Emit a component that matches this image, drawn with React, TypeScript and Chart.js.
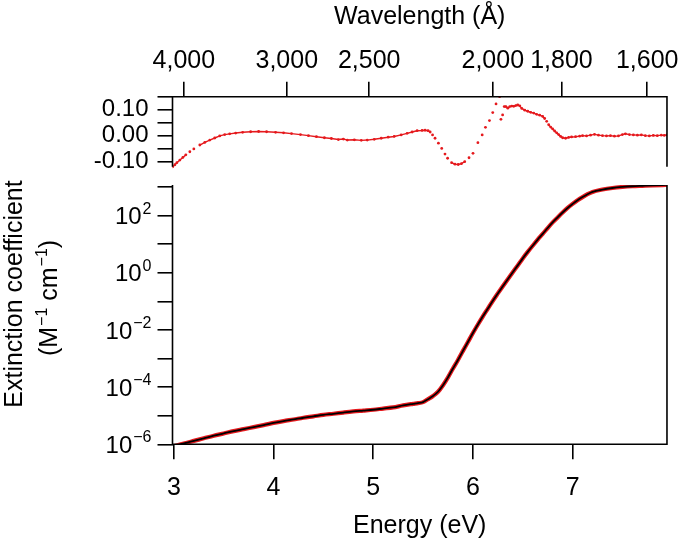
import React, { useEffect, useRef } from "react";
import { Chart, registerables } from "chart.js";

Chart.register(...registerables);

const FONT = '"Liberation Sans", Arial, Helvetica, sans-serif';
const RED = "#e5191d";

const HC_EV_ANGSTROM = 12398.4;
const ENERGY_MIN = 2.986;
const ENERGY_MAX = 7.947;
const EXT_MIN = 1e-6;
const EXT_MAX = 1183;
const RES_AXIS_TOP = 0.15;
const RES_AXIS_BOTTOM = -0.12;
const RES_SCALE_MIN = -0.19;

const energyTicks = [3, 4, 5, 6, 7];
const wavelengthTicks = [4000, 3000, 2500, 2000, 1800, 1600];
const wavelengthLabels = ["4,000", "3,000", "2,500", "2,000", "1,800", "1,600"];
const residualTicks = [0.15, 0.1, 0.05, 0, -0.05, -0.1];
const residualTickLabels = ["", "0.10", "", "0.00", "", "-0.10"];
const extTickExponents = [3, 2, 1, 0, -1, -2, -3, -4, -5, -6];
const extLabelExponents = [2, 0, -2, -4, -6];

const extEnergy = [
  2.99, 3.1, 3.2, 3.3, 3.4, 3.5, 3.6, 3.7, 3.8, 3.9, 4.0, 4.1, 4.2, 4.3, 4.4,
  4.5, 4.6, 4.7, 4.8, 4.9, 5.0, 5.1, 5.2, 5.3, 5.4, 5.45, 5.5, 5.55, 5.6, 5.65,
  5.7, 5.75, 5.8, 5.85, 5.9, 5.95, 6.0, 6.05, 6.1, 6.15, 6.2, 6.25, 6.3, 6.35,
  6.4, 6.45, 6.5, 6.55, 6.6, 6.65, 6.7, 6.75, 6.8, 6.85, 6.9, 6.95, 7.0, 7.05,
  7.1, 7.15, 7.2, 7.3, 7.4, 7.5, 7.6, 7.7, 7.8, 7.9, 7.947,
];
const extCoefficient = [
  8.3e-7, 1.07e-6, 1.32e-6, 1.62e-6, 2.0e-6, 2.4e-6, 2.9e-6, 3.4e-6, 4.0e-6,
  4.7e-6, 5.6e-6, 6.5e-6, 7.4e-6, 8.5e-6, 9.5e-6, 1.07e-5, 1.17e-5, 1.29e-5,
  1.41e-5, 1.51e-5, 1.62e-5, 1.78e-5, 1.95e-5, 2.3e-5, 2.6e-5, 2.75e-5, 3.0e-5,
  3.8e-5, 4.9e-5, 6.9e-5, 1.17e-4, 2.2e-4, 4.5e-4, 8.9e-4, 1.86e-3, 3.8e-3,
  7.8e-3, 1.55e-2, 3.0e-2, 5.6e-2, 0.105, 0.19, 0.34, 0.6, 1.05, 1.82, 3.2,
  5.4, 8.9, 14.5, 23, 37, 58, 87, 129, 186, 257, 347, 447, 562, 676, 820, 930,
  1010, 1070, 1110, 1150, 1180, 1190,
];

const resEnergy = [
  2.988, 3.01, 3.03, 3.06, 3.09, 3.12, 3.16, 3.2, 3.26, 3.31, 3.36, 3.41, 3.46,
  3.51, 3.56, 3.62, 3.69, 3.77, 3.85, 3.93, 4.02, 4.1, 4.18, 4.27, 4.35, 4.43,
  4.51, 4.58, 4.65, 4.7, 4.74, 4.81, 4.88, 4.94, 5.01, 5.08, 5.15, 5.21, 5.28,
  5.34, 5.39, 5.44, 5.49, 5.52, 5.55, 5.571, 5.595, 5.62, 5.654, 5.687, 5.72,
  5.746, 5.786, 5.82, 5.853, 5.885, 5.918, 5.961, 6.001, 6.05, 6.093, 6.126,
  6.166, 6.199, 6.232, 6.268, 6.281, 6.298, 6.314, 6.331, 6.35, 6.37, 6.39,
  6.41, 6.43, 6.45, 6.47, 6.49, 6.52, 6.55, 6.58, 6.61, 6.64, 6.67, 6.7, 6.72,
  6.74, 6.76, 6.78, 6.8, 6.82, 6.84, 6.86, 6.88, 6.9, 6.93, 6.96, 6.99, 7.03,
  7.07, 7.1, 7.14, 7.18, 7.22, 7.26, 7.3, 7.34, 7.38, 7.42, 7.46, 7.5, 7.53,
  7.57, 7.61, 7.65, 7.69, 7.73, 7.77, 7.81, 7.85, 7.89, 7.92, 7.947,
];
const resValue = [
  -0.12, -0.112, -0.104, -0.094, -0.084, -0.074, -0.062, -0.051, -0.036, -0.026,
  -0.017, -0.009, -0.001, 0.004, 0.007, 0.01, 0.013, 0.015, 0.016, 0.015, 0.013,
  0.011, 0.008, 0.004, 0.0, -0.004, -0.008, -0.011, -0.015, -0.013, -0.017,
  -0.016, -0.018, -0.017, -0.014, -0.01, -0.006, -0.003, 0.003, 0.009, 0.014,
  0.019, 0.02, 0.021, 0.019, 0.014, 0.003, -0.01, -0.029, -0.049, -0.071,
  -0.087, -0.104, -0.11, -0.111, -0.108, -0.1, -0.085, -0.068, -0.027, 0.003,
  0.032, 0.058, 0.089, 0.122, 0.15, 0.063, 0.08, 0.112, 0.112, 0.106, 0.112,
  0.114, 0.113, 0.116, 0.118, 0.115, 0.105, 0.098, 0.094, 0.09, 0.087, 0.082,
  0.079, 0.074, 0.066, 0.055, 0.042, 0.033, 0.026, 0.018, 0.011, 0.004, -0.003,
  -0.008, -0.01, -0.007, -0.005, -0.004, -0.002, 0.0, -0.001, 0.002, 0.005,
  0.002, 0.0, -0.001, 0.0, -0.002, -0.001, 0.004, 0.007, 0.004, 0.003, 0.002,
  0.003, 0.0, -0.001, 0.001, 0.0, 0.002, 0.001, 0.003,
];

const framePlugin = {
  id: "frameAndText",
  afterDraw(chart: any) {
    const ctx = chart.ctx as CanvasRenderingContext2D;
    const xs = chart.scales.x;
    const ys = chart.scales.y;
    const y2 = chart.scales.y2;
    const L = xs.left;
    const R = xs.right;
    const tTop = y2.getPixelForValue(RES_AXIS_TOP);
    const tBot = y2.getPixelForValue(RES_AXIS_BOTTOM);
    const bTop = ys.top;
    const bBot = ys.bottom;
    ctx.save();
    ctx.strokeStyle = "#000";
    ctx.lineWidth = 1.6;
    ctx.beginPath();
    ctx.moveTo(L, tBot);
    ctx.lineTo(L, tTop);
    ctx.lineTo(R, tTop);
    ctx.lineTo(R, tBot);
    ctx.moveTo(L, bTop);
    ctx.lineTo(L, bBot);
    ctx.lineTo(R, bBot);
    ctx.lineTo(R, bTop);
    ctx.stroke();

    // log-axis labels with superscript exponents
    ctx.fillStyle = "#000";
    ctx.textBaseline = "alphabetic";
    ctx.textAlign = "left";
    const baseFont = `24px ${FONT}`;
    const supFont = `16px ${FONT}`;
    const rightEdge = L - 21;
    for (const e of extLabelExponents) {
      const py = ys.getPixelForValue(Math.pow(10, e));
      const expText = e < 0 ? "\u2212" + Math.abs(e) : String(e);
      ctx.font = supFont;
      const ew = ctx.measureText(expText).width;
      ctx.font = baseFont;
      const bw = ctx.measureText("10").width;
      const bx = rightEdge - ew - bw - 1;
      ctx.fillText("10", bx, py + 8.6);
      ctx.font = supFont;
      ctx.fillText(expText, bx + bw + 1, py - 2);
    }

    // axis titles
    ctx.font = `25px ${FONT}`;
    ctx.textAlign = "center";
    const cx = (L + R) / 2;
    ctx.fillText("Energy (eV)", cx, 533);
    ctx.fillText("Wavelength (\u00c5)", cx, 24);

    ctx.save();
    ctx.translate(22, 294);
    ctx.rotate(-Math.PI / 2);
    ctx.textAlign = "center";
    ctx.fillText("Extinction coefficient", 0, 0);
    ctx.restore();

    // second title line with superscripts
    const parts: [string, boolean][] = [
      ["(M", false],
      ["\u22121", true],
      [" cm", false],
      ["\u22121", true],
      [")", false],
    ];
    const big = `25px ${FONT}`;
    const small = `16px ${FONT}`;
    let total = 0;
    const widths = parts.map(([t, sup]) => {
      ctx.font = sup ? small : big;
      const w = ctx.measureText(t).width + (sup ? 1 : 0);
      total += w;
      return w;
    });
    ctx.save();
    ctx.translate(57, 298);
    ctx.rotate(-Math.PI / 2);
    ctx.textAlign = "left";
    let pos = -total / 2;
    parts.forEach(([t, sup], i) => {
      ctx.font = sup ? small : big;
      ctx.fillText(t, pos + (sup ? 1 : 0), sup ? -10 : 0);
      pos += widths[i];
    });
    ctx.restore();
    ctx.restore();
  },
};

export default function App() {
  const ref = useRef<HTMLCanvasElement | null>(null);

  useEffect(() => {
    if (!ref.current) return;
    const tickFont = { family: FONT, size: 24 };
    const xTickFont = { family: FONT, size: 25 };
    const gridCommon = {
      drawOnChartArea: false,
      drawTicks: true,
      tickLength: 15,
      color: "#000",
      lineWidth: 1.6,
    };
    const chart = new Chart(ref.current, {
      type: "line",
      data: {
        datasets: [
          {
            label: "residual",
            data: resEnergy.map((x, i) => ({ x, y: resValue[i] })),
            xAxisID: "x",
            yAxisID: "y2",
            order: 2,
            borderColor: RED,
            backgroundColor: RED,
            borderWidth: 1.4,
            pointRadius: 1.4,
            pointBorderWidth: 0,
            pointBackgroundColor: RED,
            tension: 0,
            segment: {
              borderColor: (c: any) =>
                Math.abs(c.p1.y - c.p0.y) > 2.6 ? "rgba(0,0,0,0)" : RED,
            },
          },
          {
            label: "data",
            data: extEnergy.map((x, i) => ({ x, y: extCoefficient[i] })),
            xAxisID: "x",
            yAxisID: "y",
            order: 1,
            borderColor: RED,
            borderWidth: 4.2,
            pointRadius: 0,
            cubicInterpolationMode: "monotone",
          },
          {
            label: "fit",
            data: extEnergy.map((x, i) => ({ x, y: extCoefficient[i] })),
            xAxisID: "x",
            yAxisID: "y",
            order: 0,
            borderColor: "#000",
            borderWidth: 1.8,
            pointRadius: 0,
            cubicInterpolationMode: "monotone",
          },
        ],
      },
      options: {
        responsive: false,
        animation: false,
        devicePixelRatio: 1,
        layout: { padding: { left: 0, right: 12, top: 0, bottom: 0 } },
        plugins: {
          legend: { display: false },
          tooltip: { enabled: false },
          title: { display: false },
        },
        scales: {
          x: {
            type: "linear",
            position: "bottom",
            min: ENERGY_MIN,
            max: ENERGY_MAX,
            afterBuildTicks: (s: any) => {
              s.ticks = energyTicks.map((v) => ({ value: v }));
            },
            ticks: {
              autoSkip: false,
              maxRotation: 0,
              color: "#000",
              font: xTickFont,
              padding: 14,
              callback: (v: any) => String(v),
            },
            grid: gridCommon,
            border: { display: false },
            afterFit: (s: any) => {
              s.height = 96.7;
            },
          },
          x2: {
            type: "linear",
            position: "top",
            min: ENERGY_MIN,
            max: ENERGY_MAX,
            afterBuildTicks: (s: any) => {
              s.ticks = wavelengthTicks.map((w) => ({ value: HC_EV_ANGSTROM / w }));
            },
            ticks: {
              autoSkip: false,
              maxRotation: 0,
              color: "#000",
              font: xTickFont,
              padding: 6,
              callback: (_v: any, i: number) => wavelengthLabels[i] ?? "",
            },
            grid: gridCommon,
            border: { display: false },
            afterFit: (s: any) => {
              s.height = 96.7;
            },
          },
          y: {
            type: "logarithmic",
            position: "left",
            stack: "panels",
            stackWeight: 259.3,
            min: EXT_MIN,
            max: EXT_MAX,
            afterBuildTicks: (s: any) => {
              s.ticks = extTickExponents.map((e) => ({ value: Math.pow(10, e) }));
            },
            ticks: { display: false, autoSkip: false },
            grid: gridCommon,
            border: { display: false },
            afterFit: (s: any) => {
              s.width = 172.5;
            },
          },
          y2: {
            type: "linear",
            position: "left",
            stack: "panels",
            stackWeight: 88.3,
            min: RES_SCALE_MIN,
            max: RES_AXIS_TOP,
            afterBuildTicks: (s: any) => {
              s.ticks = residualTicks.map((v) => ({ value: v }));
            },
            ticks: {
              autoSkip: false,
              color: "#000",
              font: tickFont,
              padding: 9,
              callback: (_v: any, i: number) => residualTickLabels[i] ?? "",
            },
            grid: gridCommon,
            border: { display: false },
            afterFit: (s: any) => {
              s.width = 172.5;
            },
          },
        },
      } as any,
      plugins: [framePlugin],
    });
    return () => chart.destroy();
  }, []);

  return (
    <div style={{ position: "fixed", left: 0, top: 0, width: 685, height: 541, background: "#fff" }}>
      <canvas ref={ref} width={685} height={541} style={{ width: 685, height: 541, display: "block" }} />
    </div>
  );
}
